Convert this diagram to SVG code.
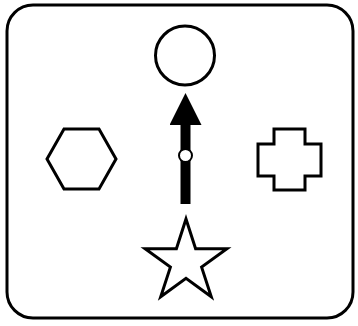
<svg xmlns="http://www.w3.org/2000/svg" width="358" height="326" viewBox="0 0 358 326">
<style>
.shape{fill:#fff;stroke:#000;stroke-width:3;stroke-linejoin:miter}
.conn{fill:none;stroke:#000;stroke-width:10}
</style>
<defs>
<marker id="head" markerUnits="userSpaceOnUse" markerWidth="32" markerHeight="32" viewBox="0 0 32 32" refX="2" refY="16" orient="auto">
<path d="M0,0 L32,16 L0,32 Z" fill="#000"/>
</marker>
</defs>
<rect x="7" y="5" width="346" height="313" rx="26" ry="26" fill="#fff" stroke="#000" stroke-width="3"/>
<g id="connectors">
<path class="conn" d="M185.5,204 L185.5,123" marker-end="url(#head)"/>
<circle cx="185.5" cy="155.5" r="6.5" fill="#fff" stroke="#000" stroke-width="2"/>
</g>
<g id="circle"><circle class="shape" cx="185" cy="55.5" r="29.5"/></g>
<g id="hexagon"><polygon class="shape" points="47,159 64,129 99,129 116,159 99,189 64,189"/></g>
<g id="cross"><polygon class="shape" points="274,129 305,129 305,144 321,144 321,176 305,176 305,190 274,190 274,176 258,176 258,144 274,144"/></g>
<g id="star"><polygon class="shape" points="186,219 195.6,248.7 226.9,248.7 201.6,267.1 211.3,296.8 186,278.4 160.7,296.8 170.4,267.1 145.1,248.7 176.4,248.7"/></g>
</svg>
